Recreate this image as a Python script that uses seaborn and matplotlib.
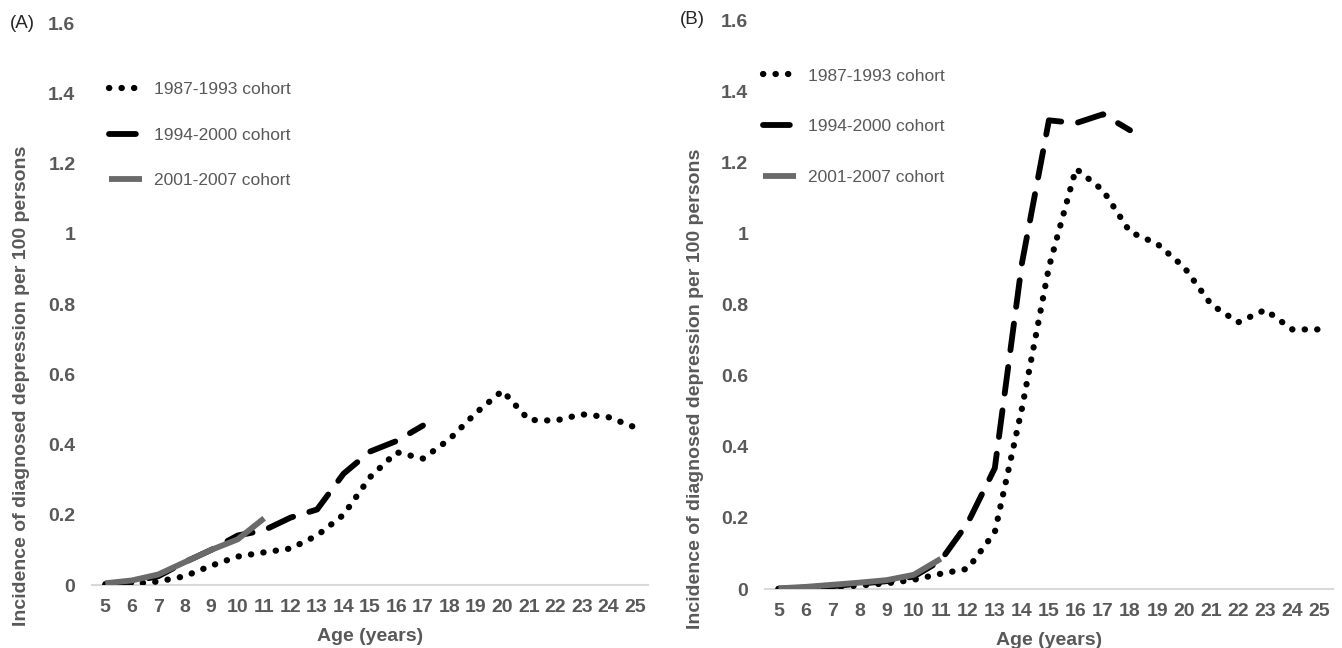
import matplotlib
matplotlib.use("Agg")
import matplotlib.pyplot as plt
import seaborn as sns

# 年龄（类别轴）
ages = [5, 6, 7, 8, 9, 10, 11, 12, 13, 14, 15, 16, 17, 18, 19, 20, 21, 22, 23, 24, 25]
y_ticks = [0, 0.2, 0.4, 0.6, 0.8, 1.0, 1.2, 1.4, 1.6]
y_tick_labels = ["0", "0.2", "0.4", "0.6", "0.8", "1", "1.2", "1.4", "1.6"]
cohorts = ["1987-1993 cohort", "1994-2000 cohort", "2001-2007 cohort"]

# Panel A
a_1987 = [0, 0.003, 0.01, 0.025, 0.055, 0.081, 0.093, 0.104, 0.141, 0.20, 0.307,
          0.378, 0.36, 0.415, 0.49, 0.553, 0.47, 0.468, 0.486, 0.478, 0.449]
a_1994 = [0.003, 0.01, 0.025, 0.065, 0.10, 0.141, 0.156, 0.192, 0.215, 0.317, 0.38,
          0.41, 0.454]
a_2001 = [0.005, 0.013, 0.03, 0.065, 0.10, 0.13, 0.19]

# Panel B
b_1987 = [0, 0.002, 0.005, 0.01, 0.016, 0.026, 0.043, 0.057, 0.16, 0.507, 0.905,
          1.182, 1.121, 1.004, 0.971, 0.905, 0.80, 0.75, 0.785, 0.73, 0.73]
b_1994 = [0.001, 0.004, 0.008, 0.015, 0.022, 0.035, 0.08, 0.186, 0.34, 0.915, 1.318,
          1.31, 1.335, 1.29]
b_2001 = [0.002, 0.006, 0.012, 0.018, 0.025, 0.04, 0.085]

sns.set_theme(style="white")
plt.rcParams["font.family"] = ["Liberation Sans", "DejaVu Sans"]

TXT = "#595959"

# 线型：点线、长虚线、灰色实线
styles = [
    dict(color="black", lw=4.5, linestyle=(0, (0.05, 1.95)), dash_capstyle="round"),
    dict(color="black", lw=4.2, linestyle=(0, (4.6, 2.9)), dash_capstyle="round"),
    dict(color="#6a6a6a", lw=4.2, linestyle="-", solid_capstyle="butt"),
]

fig = plt.figure(figsize=(13.42, 6.48), dpi=100)
ax_a = fig.add_axes([0.0686, 0.0972, 0.4143, 0.8673])
ax_b = fig.add_axes([0.5700, 0.0910, 0.4232, 0.8781])


def draw_panel(ax, series, leg_anchor, leg_spacing):
    for name, vals, st in zip(cohorts, series, styles):
        sns.lineplot(x=ages[:len(vals)], y=vals, ax=ax, label=name, **st)

    ax.set_xlim(4.5, 25.5)
    ax.set_ylim(0, 1.6)
    ax.set_xticks(ages)
    ax.set_xticklabels([str(a) for a in ages], fontsize=14, fontweight="bold", color=TXT)
    ax.set_yticks(y_ticks)
    ax.set_yticklabels(y_tick_labels, fontsize=14, fontweight="bold", color=TXT)
    ax.tick_params(axis="both", length=0)
    ax.tick_params(axis="y", pad=12)
    ax.tick_params(axis="x", pad=10)
    for s in ["left", "top", "right"]:
        ax.spines[s].set_visible(False)
    ax.spines["bottom"].set_color("#d9d9d9")
    ax.spines["bottom"].set_linewidth(1.5)
    ax.spines["bottom"].set_zorder(0)
    ax.set_xlabel("Age (years)", fontsize=14, fontweight="bold", color=TXT, labelpad=9)
    ax.set_ylabel("")
    ax.grid(False)

    leg = ax.legend(loc="upper left", bbox_to_anchor=leg_anchor, frameon=False,
                    fontsize=12.5, handlelength=1.9, handletextpad=0.7,
                    labelspacing=leg_spacing, borderpad=0, borderaxespad=0)
    for t in leg.get_texts():
        t.set_color(TXT)


draw_panel(ax_a, [a_1987, a_1994, a_2001], (0.031, 0.895), 1.75)
draw_panel(ax_b, [b_1987, b_1994, b_2001], (-0.004, 0.915), 2.05)

ylab = "Incidence of diagnosed depression per 100 persons"
fig.text(22 / 1342, 1 - 386 / 648, ylab, rotation=90, ha="center", va="center",
         fontsize=14, fontweight="bold", color=TXT)
fig.text(695 / 1342, 1 - 389 / 648, ylab, rotation=90, ha="center", va="center",
         fontsize=14, fontweight="bold", color=TXT)

fig.text(10 / 1342, 1 - 23 / 648, "(A)", ha="left", va="center", fontsize=13.5, color="#262626")
fig.text(680 / 1342, 1 - 20 / 648, "(B)", ha="left", va="center", fontsize=13.5, color="#262626")

fig.savefig("out.png", dpi=100)
